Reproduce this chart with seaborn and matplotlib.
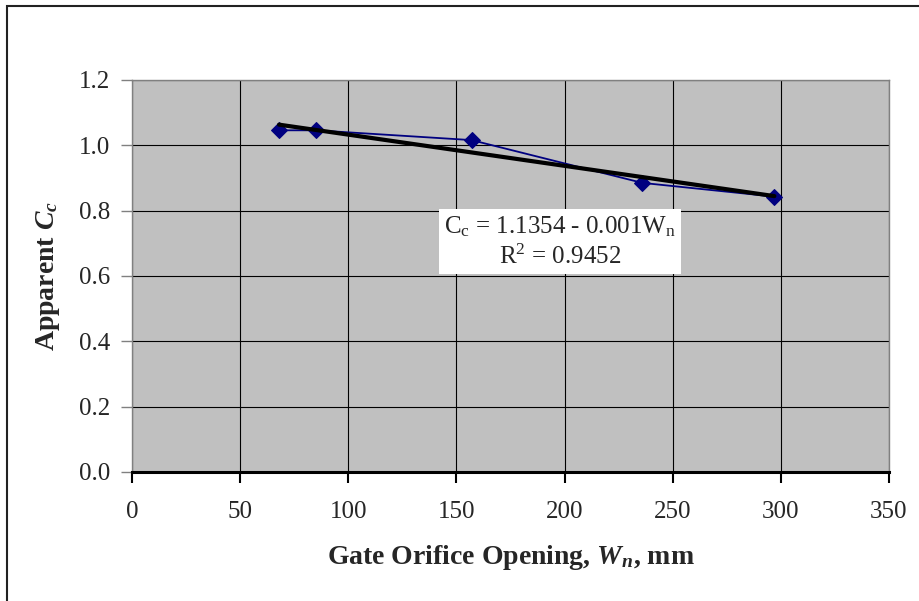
import numpy as np
import matplotlib
matplotlib.use("Agg")
import matplotlib.pyplot as plt
import seaborn as sns
import pandas as pd
from matplotlib.patches import Rectangle

# --- data ---
opening_mm = [68, 85, 157, 236, 297]
apparent_cc = [1.046, 1.046, 1.016, 0.885, 0.843]
x_ticks = [0, 50, 100, 150, 200, 250, 300, 350]
y_ticks = [0.0, 0.2, 0.4, 0.6, 0.8, 1.0, 1.2]
eq_text = "$\\mathrm{C_c}$ = 1.1354 - 0.001$\\mathrm{W_n}$\n$\\mathrm{R^2}$ = 0.9452"

df = pd.DataFrame({"W": opening_mm, "Cc": apparent_cc})

sns.set_style("ticks")
plt.rcParams["font.family"] = ["Liberation Serif", "DejaVu Serif"]
plt.rcParams["mathtext.fontset"] = "custom"
plt.rcParams["mathtext.rm"] = "Liberation Serif"
plt.rcParams["mathtext.it"] = "Liberation Serif:italic"
plt.rcParams["mathtext.bf"] = "Liberation Serif:bold"
plt.rcParams["mathtext.bfit"] = "Liberation Serif:italic:bold"

fig = plt.figure(figsize=(9.2, 6.01), dpi=100)
ax = fig.add_axes([132 / 920, 1 - 472 / 601, 757 / 920, 392 / 601])
ax.set_facecolor("#C0C0C0")

# series + linear trendline
sns.lineplot(data=df, x="W", y="Cc", ax=ax, color="#000080", linewidth=1.3,
             marker="D", markersize=8, markeredgecolor="#000080", zorder=3)
sns.regplot(data=df, x="W", y="Cc", ax=ax, scatter=False, ci=None, truncate=True,
            line_kws=dict(color="black", linewidth=3, zorder=4))

ax.set_xlim(0, 350)
ax.set_ylim(0, 1.2)
ax.set_xticks(x_ticks)
ax.set_yticks(y_ticks)
ax.set_yticklabels([f"{v:.1f}" for v in y_ticks])
ax.grid(True, color="black", linewidth=0.8)
ax.set_axisbelow(True)

for side in ["left", "top", "right"]:
    ax.spines[side].set_color("#808080")
    ax.spines[side].set_linewidth(1.0)
ax.spines["bottom"].set_color("black")
ax.spines["bottom"].set_linewidth(2.2)

ax.tick_params(axis="y", direction="out", length=8, width=1, color="#808080",
               labelsize=18, pad=8)
ax.tick_params(axis="x", direction="out", length=8, width=1.5, color="black",
               labelsize=18, pad=13)

ax.set_xlabel("Gate Orifice Opening, $\\mathbfit{W}_{\\mathbfit{n}}$, mm",
              fontsize=20, fontweight="bold", labelpad=14)
ax.set_ylabel("Apparent $\\mathbfit{C}_{\\mathbfit{c}}$",
              fontsize=20, fontweight="bold", labelpad=12)

ax.text(198, 0.704, eq_text, ha="center", va="center", fontsize=18,
        linespacing=1.3, multialignment="center", zorder=5,
        bbox=dict(facecolor="white", edgecolor="none", boxstyle="square,pad=0.2"))

# chart-area border
fig.patches.append(Rectangle((7 / 920, -0.05), 1.0, 0.99 + 0.05,
                             transform=fig.transFigure, fill=False,
                             edgecolor="#222222", linewidth=1.5))

fig.savefig("out.png", dpi=100)
